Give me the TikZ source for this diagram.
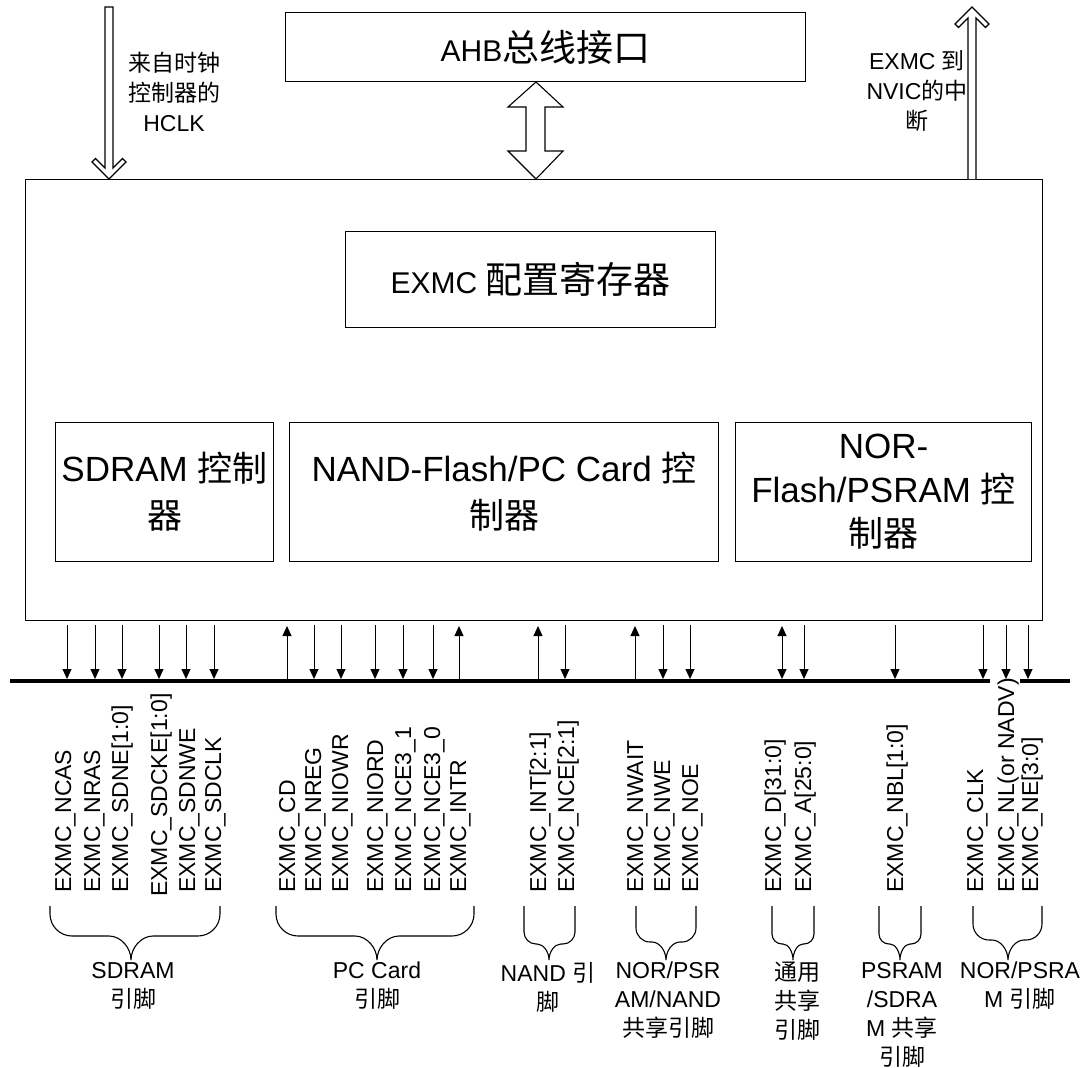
\documentclass[tikz,border=0pt]{standalone}
\usepackage{fontspec}
\setmainfont{Liberation Sans}
\newfontfamily\cjk{Noto Sans CJK SC}
\newcommand\zh[1]{{\cjk #1}}
\usetikzlibrary{arrows.meta}
\newcommand\pinbrace[5]{%
 \draw[brc] (#1,906) -- (#1,{960-#5-#4})
  .. controls (#1,{960-#5-0.45*#4}) and ({#1+0.45*#4},{960-#5}) .. ({#1+#4},{960-#5})
  -- ({#3-#4},{960-#5})
  .. controls ({#3-0.45*#4},{960-#5}) and (#3,{960-0.5*#5}) .. (#3,960)
  .. controls (#3,{960-0.5*#5}) and ({#3+0.45*#4},{960-#5}) .. ({#3+#4},{960-#5})
  -- ({#2-#4},{960-#5})
  .. controls ({#2-0.45*#4},{960-#5}) and (#2,{960-#5-0.45*#4}) .. (#2,{960-#5-#4})
  -- (#2,906);}
\begin{document}
\begin{tikzpicture}[x=1pt,y=-1pt,
  box/.style={draw, line width=1.1pt, anchor=north west, inner sep=0pt, align=center},
  pin/.style={line width=1pt, -{Triangle[width=9pt,length=10pt]}},
  bipin/.style={line width=1pt, {Triangle[width=9pt,length=10pt]}-{Triangle[width=9pt,length=10pt]}},
  pinlbl/.style={rotate=90, anchor=base west, inner sep=0pt, font=\fontsize{23}{27}\selectfont},
  brc/.style={line width=1.1pt},
  grp/.style={anchor=north, inner sep=0pt, align=center, font=\fontsize{23}{29}\selectfont},
  small/.style={inner sep=0pt, align=center, font=\fontsize{23}{30}\selectfont},
  hollow/.style={draw, line width=1.1pt, fill=white, line join=miter},
  bus/.style={line width=4pt}]
\useasboundingbox (0,0) rectangle (1090,1068);

% boxes
\node[box, minimum width=1017pt, minimum height=441pt] (main) at (25,179) {};
\node[box, minimum width=520pt, minimum height=69pt, font=\fontsize{30}{36}\selectfont] (ahb) at (285,12)
  {AHB{\fontsize{37}{40}\selectfont\cjk 总线接口}};
\node[box, minimum width=370pt, minimum height=96pt, font=\fontsize{30}{36}\selectfont] (cfg) at (345,231)
  {EXMC {\fontsize{37}{40}\selectfont\cjk 配置寄存器}};
\node[box, minimum width=218pt, minimum height=139pt, font=\fontsize{35}{47}\selectfont] (sdram) at (55,422)
  {SDRAM \zh{控制}\\\zh{器}};
\node[box, minimum width=429pt, minimum height=139pt, font=\fontsize{35}{47}\selectfont] (nand) at (289,422)
  {NAND-Flash/PC Card \zh{控}\\\zh{制器}};
\node[box, minimum width=296pt, minimum height=139pt, font=\fontsize{35}{44}\selectfont] (nor) at (735,422)
  {NOR-\\Flash/PSRAM \zh{控}\\\zh{制器}};

% HCLK hollow arrow (down)
\coordinate (hclktip) at (109,179);
\begin{scope}[shift={(hclktip)}]
\draw[hollow] (-4,-172) -- (-4,-11) -- (-13.5,-20.5) -- (-17,-17) -- (0,0) -- (17,-17)
  -- (13.5,-20.5) -- (4,-11) -- (4,-172) -- cycle;
\end{scope}
\node[small] (hclklbl) at (174,92) {\zh{来自时钟}\\\zh{控制器的}\\HCLK};

% NVIC hollow arrow (up)
\coordinate (nvictip) at (972,7);
\begin{scope}[shift={(nvictip)}]
\draw[hollow] (-4,172) -- (-4,11) -- (-13.5,20.5) -- (-17,17) -- (0,0) -- (17,17)
  -- (13.5,20.5) -- (4,11) -- (4,172);
\end{scope}
\node[small] (nviclbl) at (917,91) {EXMC \zh{到}\\NVIC\zh{的中}\\\zh{断}};

% AHB <-> EXMC double hollow arrow
\coordinate (ahbtip) at (536,82);
\begin{scope}[shift={(ahbtip)}]
\draw[hollow] (0,0) -- (27,25) -- (9,25) -- (9,69) -- (27,69) -- (0,97) -- (-28,69)
  -- (-10,69) -- (-10,25) -- (-28,25) -- cycle;
\end{scope}

% pin arrows
\foreach \x [count=\i] in {67,95,122,159,186,214,314,341,375,403,433,565,663,690,804,895,983,1006,1028}{
  \coordinate (dt\i) at (\x,625); \coordinate (db\i) at (\x,679);
  \draw[pin] (dt\i) -- (db\i);}
\foreach \x [count=\i] in {287,459,538,635}{
  \coordinate (ub\i) at (\x,681); \coordinate (ut\i) at (\x,626);
  \draw[pin] (ub\i) -- (ut\i);}
\coordinate (bt1) at (782,626); \coordinate (bb1) at (782,679);
\draw[bipin] (bt1) -- (bb1);

% bus
\coordinate (busL) at (10,681); \coordinate (gapL) at (990,681);
\coordinate (gapR) at (1020,681); \coordinate (busR) at (1070,681);
\draw[bus] (busL) -- (gapL);
\draw[bus] (gapR) -- (busR);

% pin labels
\foreach \x/\t [count=\i] in {63/EXMC\_NCAS, 92/EXMC\_NRAS, 120/EXMC\_SDNE[1:0], 187/EXMC\_SDNWE, 213/EXMC\_SDCLK,
  287/EXMC\_CD, 313/EXMC\_NREG, 340/EXMC\_NIOWR, 375/EXMC\_NIORD, 403/EXMC\_NCE3\_1, 432/EXMC\_NCE3\_0, 458/EXMC\_INTR,
  538/EXMC\_INT[2:1], 566/EXMC\_NCE[2:1], 635/EXMC\_NWAIT, 662/EXMC\_NWE, 690/EXMC\_NOE,
  773/EXMC\_D[31:0], 803/EXMC\_A[25:0], 895/EXMC\_NBL[1:0], 975/EXMC\_CLK, 1006/EXMC\_NL(or NADV), 1030/EXMC\_NE[3:0]}{
  \node[pinlbl] (pl\i) at (\x+8,893) {\t};}
\node[pinlbl] (plsdcke) at (167,897) {EXMC\_SDCKE[1:0]};

% braces
\pinbrace{50}{220}{131}{22}{24}
\pinbrace{276}{474}{377}{22}{24}
\pinbrace{524}{575}{549}{12}{16}
\pinbrace{636}{696}{666}{14}{18}
\pinbrace{772}{814}{793}{10}{16}
\pinbrace{879}{921}{900}{10}{16}
\pinbrace{973}{1042}{1008}{16}{20}

% group labels
\node[grp] (g1) at (133,962) {SDRAM\\\zh{引脚}};
\node[grp] (g2) at (377,962) {PC Card\\\zh{引脚}};
\node[grp] (g3) at (548,962) {NAND \zh{引}\\\zh{脚}};
\node[grp] (g4) at (668,962) {NOR/PSR\\AM/NAND\\\zh{共享引脚}};
\node[grp] (g5) at (797,962) {\zh{通用}\\\zh{共享}\\\zh{引脚}};
\node[grp] (g6) at (902,962) {PSRAM\\/SDRA\\M \zh{共享}\\\zh{引脚}};
\node[grp] (g7) at (1020,962) {NOR/PSRA\\M \zh{引脚}};
\end{tikzpicture}
\end{document}
